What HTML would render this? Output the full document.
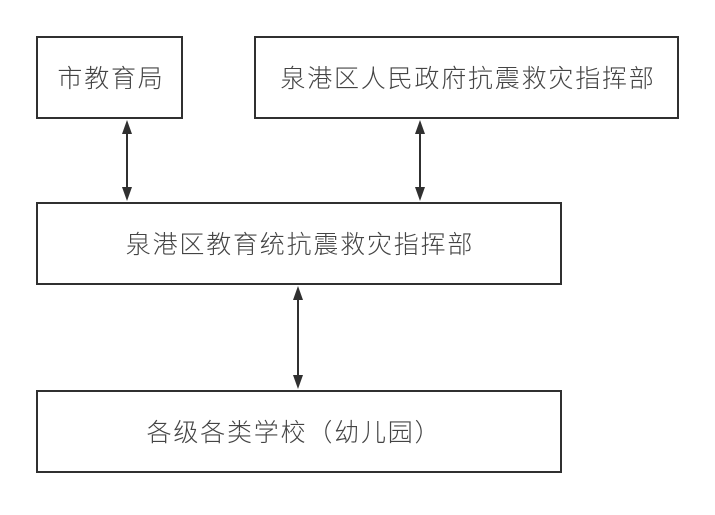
<!DOCTYPE html>
<html><head><meta charset="utf-8"><style>
body{margin:0;background:#fff;}
</style></head><body>
<svg width="715" height="510" xmlns="http://www.w3.org/2000/svg">
<g fill="none" stroke="#303030" stroke-width="2">
<rect x="37" y="37" width="145" height="81"/>
<rect x="255" y="37" width="423" height="81"/>
<rect x="37" y="203" width="524" height="81"/>
<rect x="37" y="391" width="524" height="81"/>
<line x1="127" y1="128" x2="127" y2="192"/>
<line x1="420" y1="128" x2="420" y2="192"/>
<line x1="298" y1="294" x2="298" y2="380"/>
</g>
<g fill="#303030">
<polygon points="127,120 122,134 132,134"/>
<polygon points="127,201 122,187 132,187"/>
<polygon points="420,120 415,134 425,134"/>
<polygon points="420,201 415,187 425,187"/>
<polygon points="298,286 293,300 303,300"/>
<polygon points="298,389 293,375 303,375"/>
</g>
<g font-family="'Liberation Sans','Noto Sans CJK SC',sans-serif" font-size="25" font-weight="300" fill="#444" text-anchor="middle" letter-spacing="1.8">
<text x="111" y="87">市教育局</text>
<text x="468" y="87">泉港区人民政府抗震救灾指挥部</text>
<text x="300" y="253">泉港区教育统抗震救灾指挥部</text>
<text x="294" y="441">各级各类学校（幼儿园）</text>
</g>
</svg>
</body></html>
